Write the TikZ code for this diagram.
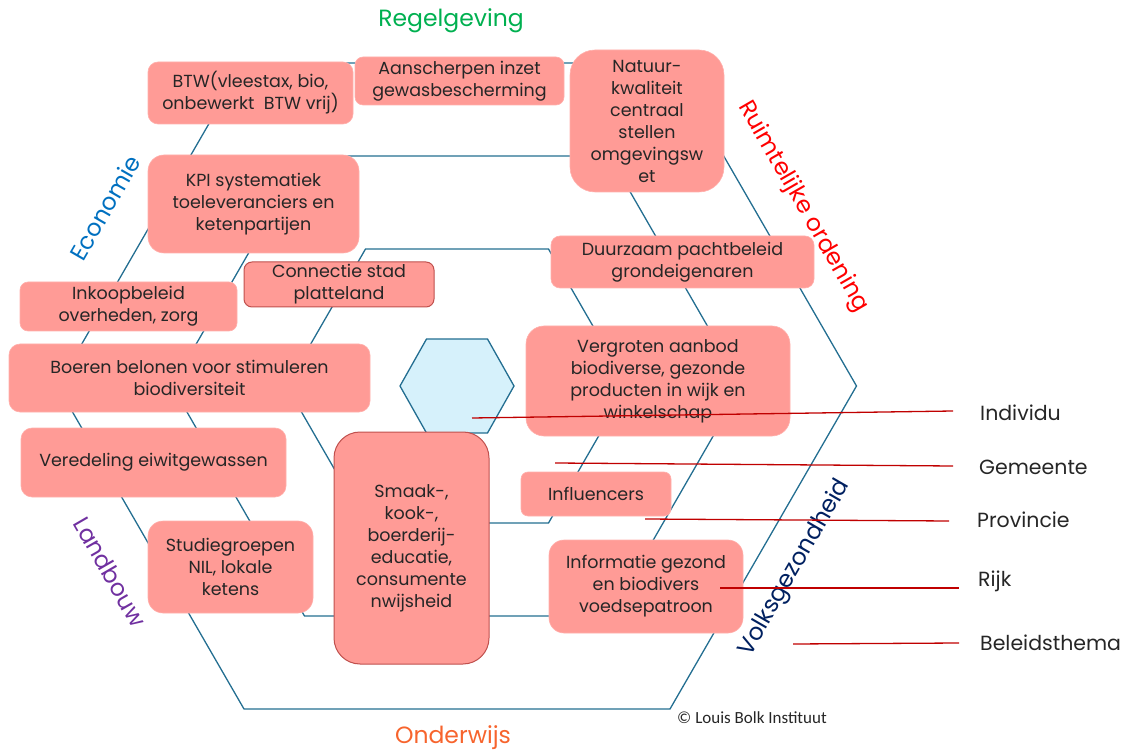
\documentclass[tikz,border=0pt]{standalone}
\usepackage{fontspec}
\setmainfont{Poppins}
\newfontfamily\carl{Carlito}
\definecolor{boxfill}{HTML}{FF9B96}
\definecolor{boxedge}{HTML}{FFB0AC}
\definecolor{darkedge}{HTML}{C0504D}
\definecolor{txt}{HTML}{262626}
\definecolor{hexcol}{HTML}{236E91}
\definecolor{cyanfill}{HTML}{D6F1FB}
\definecolor{redln}{HTML}{C00000}
\definecolor{cgreen}{HTML}{00B050}
\definecolor{cred}{HTML}{FF0000}
\definecolor{cblue}{HTML}{0070C0}
\definecolor{cpurple}{HTML}{7030A0}
\definecolor{corange}{HTML}{F7642D}
\definecolor{cnavy}{HTML}{002060}
\begin{document}
\begin{tikzpicture}[x=1pt,y=-1pt,
  pbox/.style={fill=boxfill, draw=boxedge, line width=0.6pt, text=txt, align=center, inner sep=0pt,
    font=\fontsize{17.5}{22}\selectfont},
  darkbox/.style={pbox, draw=darkedge, line width=1pt},
  hexline/.style={draw=hexcol, line width=1.3pt, line join=miter},
  redline/.style={draw=redln, line width=1.3pt},
  cat/.style={font=\fontsize{23.5}{28}\selectfont, inner sep=0pt},
  lvl/.style={font=\fontsize{20.5}{24}\selectfont, text=txt, anchor=west, inner sep=0pt}
]
\useasboundingbox (0,0) rectangle (1125,751);
% concentric hexagons
\foreach \a/\v/\h in {213/399.5/323, 152.5/285/230, 91.5/170.5/137}{
  \draw[hexline] (457-\a,386-\h) -- (457+\a,386-\h) -- (457+\v,386) -- (457+\a,386+\h)
    -- (457-\a,386+\h) -- (457-\v,386) -- cycle;
}
\draw[hexline, fill=cyanfill] (457-30.5,386-47) -- (457+30.5,386-47) -- (457+57,386)
  -- (457+30.5,386+47) -- (457-30.5,386+47) -- (457-57,386) -- cycle;

% category labels
\node[cat, text=cgreen] (regel) at (451,21) {Regelgeving};
\node[cat, text=cred, rotate=-60] (ruimte) at (803,207) {Ruimtelijke ordening};
\node[cat, text=cblue, rotate=60] (econ) at (105,208) {Economie};
\node[cat, text=cpurple, rotate=-60] (land) at (110,572) {Landbouw};
\node[cat, text=cnavy, rotate=60] (volks) at (795,568) {Volksgezondheid};
\node[cat, text=corange] (onder) at (453,738) {Onderwijs};
\node[font=\carl\fontsize{17}{19}\selectfont, text=txt, inner sep=0pt] (copy) at (752,718) {\textcopyright\ Louis Bolk Instituut};

% boxes
\node[pbox, minimum width=205pt, minimum height=62pt, rounded corners=10pt] (btw) at (250.5,93) {BTW(vleestax, bio,\\onbewerkt\ \ BTW vrij)};
\node[pbox, minimum width=209pt, minimum height=48pt, rounded corners=8pt] (aan) at (459.5,81) {Aanscherpen inzet\\gewasbescherming};
\node[pbox, minimum width=154pt, minimum height=142pt, rounded corners=25pt] (nat) at (647,121) {Natuur-\\kwaliteit\\centraal\\stellen\\omgevingsw\\et};
\node[pbox, minimum width=211pt, minimum height=98pt, rounded corners=16pt] (kpi) at (253.5,204) {KPI systematiek\\toeleveranciers en\\ketenpartijen};
\node[pbox, minimum width=263pt, minimum height=52pt, rounded corners=9pt] (duur) at (682.5,262) {Duurzaam pachtbeleid\\grondeigenaren};
\node[darkbox, minimum width=190pt, minimum height=45pt, rounded corners=8pt] (con) at (339,284.5) {Connectie stad\\platteland};
\node[pbox, minimum width=217pt, minimum height=49pt, rounded corners=8pt] (ink) at (128.5,306.5) {Inkoopbeleid\\overheden, zorg};
\node[pbox, minimum width=361pt, minimum height=68pt, rounded corners=11pt] (boe) at (189.5,378) {Boeren belonen voor stimuleren\\biodiversiteit};
\node[pbox, minimum width=264pt, minimum height=110pt, rounded corners=18pt] (verg) at (658,381) {Vergroten aanbod\\biodiverse, gezonde\\producten in wijk en\\winkelschap};
\node[pbox, minimum width=265pt, minimum height=69pt, rounded corners=11pt] (vered) at (153.5,462.5) {Veredeling eiwitgewassen};
\node[darkbox, minimum width=155pt, minimum height=232pt, rounded corners=26pt] (smaak) at (411.5,548) {Smaak-,\\kook-,\\boerderij-\\educatie,\\consumente\\nwijsheid};
\node[pbox, minimum width=150pt, minimum height=44pt, rounded corners=7pt] (infl) at (596,494) {Influencers};
\node[pbox, minimum width=165pt, minimum height=92pt, rounded corners=15pt] (stud) at (230.5,567) {Studiegroepen\\NIL, lokale\\ketens};
\node[pbox, minimum width=194pt, minimum height=93pt, rounded corners=15pt] (info) at (646,586.5) {Informatie gezond\\en biodivers\\voedsepatroon};

% level labels
\node[lvl] (indiv) at (980,413) {Individu};
\node[lvl] (gem) at (979,467) {Gemeente};
\node[lvl] (prov) at (977,520) {Provincie};
\node[lvl] (rijk) at (978,581) {Rijk};
\node[lvl] (bel) at (980,643) {Beleidsthema};

% red level lines
\coordinate (i1) at (472,418); \coordinate (i2) at (953,411);
\coordinate (g1) at (555,463); \coordinate (g2) at (953,466);
\coordinate (p1) at (645,519); \coordinate (p2) at (949,521);
\coordinate (r1) at (720,588); \coordinate (r2) at (959,588);
\coordinate (b1) at (793,644); \coordinate (b2) at (959,643);
\draw[redline] (i1) -- (i2);
\draw[redline] (g1) -- (g2);
\draw[redline] (p1) -- (p2);
\draw[redline] (r1) -- (r2);
\draw[redline] (b1) -- (b2);
\end{tikzpicture}
\end{document}
